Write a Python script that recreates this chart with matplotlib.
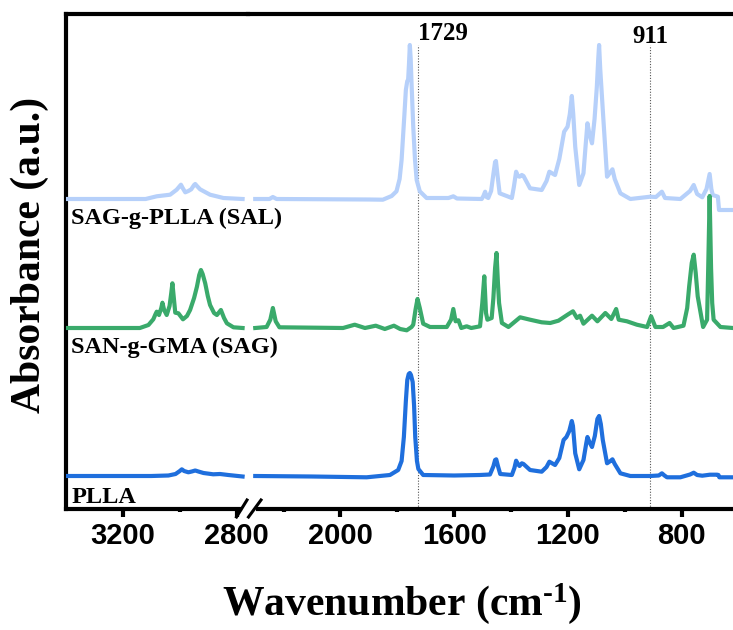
import matplotlib
matplotlib.use("Agg")
import matplotlib.pyplot as plt
from matplotlib.lines import Line2D
import numpy as np

plt.rcParams["mathtext.fontset"] = "custom"
plt.rcParams["mathtext.rm"] = "Liberation Serif:bold"
plt.rcParams["mathtext.bf"] = "Liberation Serif:bold"
plt.rcParams["mathtext.default"] = "rm"

# ---------------- data (wavenumber cm-1, relative absorbance) ----------------
plla_left_wn = [3400, 3100, 3040, 3015, 3000, 2993, 2985, 2970, 2958, 2946, 2935, 2917, 2883, 2859, 2830, 2780]
plla_left_ab = [0, 0, 0.5, 2, 5, 6.7, 5, 3.7, 4.5, 5.5, 4.5, 3, 1.7, 2, 1, -0.5]

plla_right_wn = [2300, 2100, 1908, 1826, 1797, 1785, 1777, 1770, 1765, 1760, 1756, 1752, 1746, 1741, 1737,
                 1731, 1726, 1709, 1600, 1510, 1474, 1462, 1456, 1452, 1446, 1438, 1397, 1388, 1382, 1376,
                 1370, 1362, 1356, 1333, 1292, 1275, 1265, 1245, 1230, 1215, 1205, 1195, 1186, 1182, 1174,
                 1160, 1145, 1135, 1131, 1124, 1115, 1105, 1096, 1090, 1084, 1077, 1062, 1050, 1043, 1035,
                 1015, 980, 910, 880, 869, 860, 851, 804, 770, 757, 745, 727, 700, 675, 670, 667, 619]
plla_right_ab = [0, -0.5, -1.3, 1, 6, 15, 39, 75, 96, 102, 103, 101, 94, 70, 39,
                 15, 7, 1, 0.5, 1, 1.5, 9.7, 16, 16.7, 10, 2, 1, 8, 15.3, 12,
                 10, 12.7, 12, 6, 4.3, 9, 14.3, 11, 18, 36, 39, 45, 55, 50, 22.7,
                 6.7, 16, 33, 39, 34, 29, 40, 57, 60, 52, 36, 12.7, 15, 16.7, 12,
                 2.7, 0, 0, 0.5, 2.7, 0.5, -1.3, -1.3, 1.5, 3.3, 1, 0.3, 1.3, 1.3, 1, -1.3, -1.3]

sag_left_wn = [3400, 3140, 3110, 3093, 3085, 3081, 3073, 3065, 3061, 3055, 3046, 3036, 3030, 3026, 3021,
               3016, 3005, 2989, 2975, 2964, 2950, 2940, 2932, 2926, 2920, 2911, 2902, 2894, 2880, 2870,
               2856, 2845, 2835, 2812, 2780]
sag_left_ab = [0, 0, 3, 8.7, 14, 16.3, 13, 20, 25.3, 18, 13, 22, 35, 44.7, 30,
               15.3, 14.7, 8.7, 12, 18, 30, 41.3, 53, 58, 54, 44.7, 32, 23, 15, 13,
               18, 10, 4.7, 0.7, 0]

sag_right_wn = [2300, 2260, 2247, 2238, 2228, 2215, 1991, 1950, 1914, 1876, 1844, 1812, 1790, 1767, 1750,
                1744, 1736, 1729, 1721, 1709, 1685, 1626, 1611, 1603, 1595, 1585, 1575, 1556, 1540, 1509,
                1501, 1494, 1488, 1483, 1468, 1462, 1456, 1451, 1446, 1442, 1432, 1409, 1368, 1333, 1292,
                1262, 1233, 1201, 1182, 1168, 1157, 1145, 1115, 1096, 1068, 1047, 1030, 1021, 992, 957,
                921, 907, 892, 865, 842, 828, 793, 780, 773, 764, 757, 750, 743, 724, 710,
                706, 701, 696, 692, 687, 663, 619]
sag_right_ab = [0, 1, 8.3, 20, 6.7, 0.7, 0, 3.3, 0, 2.3, -1, 2.3, -1, -2.3, 1,
                3.3, 18.3, 29, 20, 4.3, 1, 1, 8.3, 19, 6.7, 7.7, 0, 1.7, 0, 1.7,
                25, 51.7, 15, 8.3, 10, 30, 60, 75, 45, 25, 5, 1, 10.7, 8.3, 5.7,
                5, 7.3, 13.3, 16.7, 10, 12.3, 4.3, 12.3, 6.7, 15, 9, 19, 8.3, 6.7, 3.3,
                1, 11.7, 1, 1, 5, 0, 2.3, 20, 41.7, 65, 73.3, 55, 31.7, 1, 8.3,
                60, 132, 60, 25, 8.3, 1, 0]

sal_left_wn = [3400, 3120, 3081, 3034, 3011, 3000, 2996, 2990, 2981, 2970, 2960, 2950, 2946, 2940, 2929,
               2894, 2847, 2780]
sal_left_ab = [0, 0, 2.7, 4.3, 9.3, 13, 14.3, 11, 6.7, 8, 9.7, 14, 15, 13, 9.7,
               4.3, 1, 0]

sal_right_wn = [2300, 2250, 2238, 2225, 1900, 1851, 1820, 1803, 1792, 1785, 1775, 1770, 1765, 1762, 1759,
                1756, 1753, 1750, 1744, 1738, 1732, 1721, 1697, 1620, 1603, 1590, 1503, 1497, 1491, 1486,
                1480, 1470, 1462, 1456, 1453, 1448, 1440, 1397, 1390, 1382, 1376, 1370, 1362, 1356, 1333,
                1292, 1275, 1265, 1245, 1230, 1213, 1201, 1193, 1186, 1181, 1174, 1160, 1145, 1137, 1131,
                1124, 1115, 1106, 1098, 1093, 1090, 1086, 1077, 1062, 1050, 1043, 1035, 1015, 980, 910,
                890, 869, 858, 804, 770, 757, 745, 727, 712, 701, 695, 690, 672, 668, 619]
sal_right_ab = [0, 0, 2, 0, -0.5, -0.7, 3, 7.7, 20, 39, 85, 109, 118, 119, 135,
                154, 140, 115.7, 72.3, 40, 19, 7.7, 1, 1, 2.7, 0.5, 0, 3, 7.3, 2,
                1, 8, 25, 37, 38, 25, 5.7, 1, 12, 27.3, 23, 22.3, 24, 23, 10.7,
                9, 18, 27.3, 24, 40, 67.3, 72.3, 85, 103, 85, 52.3, 14, 25.7, 55, 75.7,
                65, 55.7, 80, 112, 140, 154, 130, 89, 22.3, 27, 29.7, 20, 5.7, 0, 2.3,
                2, 7.3, 1, 0, 8, 14, 5, 1.7, 10, 25, 10, 4, 2.3, -11, -11]

offsets = {"PLLA": 0, "SAG": 148, "SAL": 277}
colors = {"PLLA": "#1f6fdd", "SAG": "#3aaa6b", "SAL": "#b6d0fa"}
series_labels = {"SAL": "SAG-g-PLLA (SAL)", "SAG": "SAN-g-GMA (SAG)", "PLLA": "PLLA"}
label_y = {"SAL": 252, "SAG": 123, "PLLA": -27}
marker_lines = [1729, 911]

left_major = [3200, 2800]
left_minor = [3000]
right_major = [2000, 1600, 1200, 800]
right_minor = [2200, 1800, 1400, 1000]

# ---------------- figure ----------------
W, H = 733, 630
fig = plt.figure(figsize=(W / 100, H / 100), dpi=100)

x0, xb, x1 = 66, 248, 733
ytop, ybot = 14, 509
ax1 = fig.add_axes([x0 / W, 1 - ybot / H, (xb - x0) / W, (ybot - ytop) / H])
ax2 = fig.add_axes([xb / W, 1 - ybot / H, (x1 - xb) / W, (ybot - ytop) / H])
ax1.patch.set_visible(False)
ax2.patch.set_visible(False)

ylim = (-33, 462)
ax1.set_xlim(3399, 2761)
ax2.set_xlim(2325.5, 618.8)
for ax in (ax1, ax2):
    ax.set_ylim(*ylim)

data = {
    "PLLA": ((plla_left_wn, plla_left_ab), (plla_right_wn, plla_right_ab)),
    "SAG": ((sag_left_wn, sag_left_ab), (sag_right_wn, sag_right_ab)),
    "SAL": ((sal_left_wn, sal_left_ab), (sal_right_wn, sal_right_ab)),
}
for key in ["SAL", "SAG", "PLLA"]:
    (lw_, la_), (rw_, ra_) = data[key]
    off = offsets[key]
    ax1.plot(lw_, np.array(la_) + off, color=colors[key], lw=3.0, solid_joinstyle="round", zorder=3)
    ax2.plot(rw_, np.array(ra_) + off, color=colors[key], lw=3.0, solid_joinstyle="round", zorder=3)

serif = "Liberation Serif"
sans = "Liberation Sans"

# series labels
for key in ["SAL", "SAG", "PLLA"]:
    ax1.text(3380, label_y[key], series_labels[key], fontsize=17.5, fontweight="bold",
             family=serif, ha="left", va="baseline", zorder=4, clip_on=False)

# dotted marker lines
for wn in marker_lines:
    ax2.vlines(wn, ylim[0], 431, colors="#555555", lw=0.8, linestyles=(0, (1, 1.5)), zorder=2)
ax2.text(1729, 436, "1729", fontsize=18, fontweight="bold", family=serif, ha="left", va="baseline")
ax2.text(911, 433, "911", fontsize=18, fontweight="bold", family=serif, ha="center", va="baseline")

# spines and ticks
for ax in (ax1, ax2):
    for s in ax.spines.values():
        s.set_linewidth(3.0)
    ax.set_yticks([])
    ax.tick_params(axis="x", which="major", direction="out", length=5.5, width=3.0, pad=4,
                   labelsize=21)
    ax.tick_params(axis="x", which="minor", direction="out", length=2.5, width=3.0)

ax1.spines["right"].set_visible(False)
ax2.spines["left"].set_visible(False)
ax2.spines["right"].set_visible(False)
ax1.spines["bottom"].set_bounds(3399, 2790)
ax2.spines["bottom"].set_bounds(2290, 618.8)

ax1.set_xticks(left_major)
ax1.set_xticks(left_minor, minor=True)
ax2.set_xticks(right_major)
ax2.set_xticks(right_minor, minor=True)
for ax in (ax1, ax2):
    for lab in ax.get_xticklabels():
        lab.set_fontfamily(sans)
        lab.set_fontweight("bold")

# break marks
for (xa, xb_) in [(236.5, 247), (248.5, 261)]:
    fig.add_artist(Line2D([xa / W, xb_ / W], [1 - 517 / H, 1 - 500 / H], color="black", lw=2.2,
                          transform=fig.transFigure, clip_on=False))

# axis labels
fig.text(402 / W, 1 - 604 / H, r"Wavenumber (cm$^{\text{-1}}$)", fontsize=30, fontweight="bold",
         family=serif, ha="center", va="center")
fig.text(30 / W, 1 - 255 / H, "Absorbance (a.u.)", fontsize=30, fontweight="bold",
         family=serif, ha="center", va="center", rotation=90)

fig.savefig("out.png", dpi=100)
